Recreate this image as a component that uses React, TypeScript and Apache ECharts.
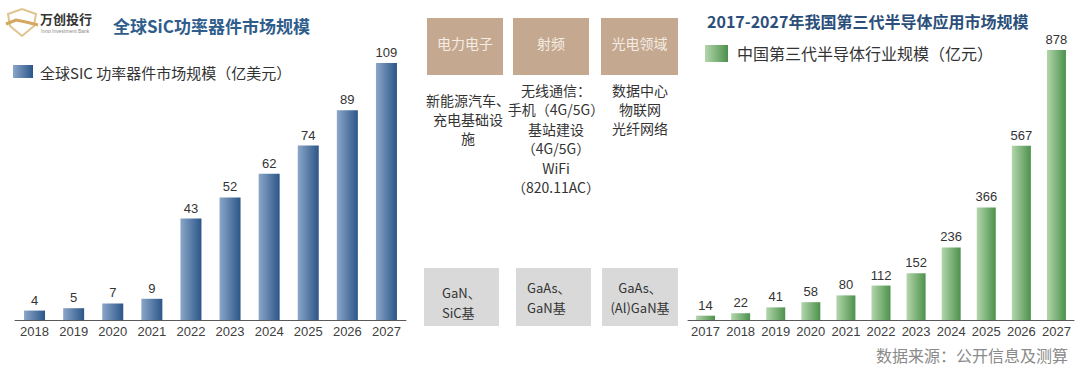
import React, { useEffect, useRef } from "react";
import * as echarts from "echarts";

const sicYears = ["2018", "2019", "2020", "2021", "2022", "2023", "2024", "2025", "2026", "2027"];
const sicValues = [4, 5, 7, 9, 43, 52, 62, 74, 89, 109];

const cnYears = ["2017", "2018", "2019", "2020", "2021", "2022", "2023", "2024", "2025", "2026", "2027"];
const cnValues = [14, 22, 41, 58, 80, 112, 152, 236, 366, 567, 878];

const fieldHeaders = ["电力电子", "射频", "光电领域"];
const fieldApps = [
  ["新能源汽车、", "充电基础设", "施"],
  ["无线通信：", "手机（4G/5G）", "基站建设", "（4G/5G）", "WiFi", "（820.11AC）"],
  ["数据中心", "物联网", "光纤网络"],
];
const fieldMaterials = [
  ["GaN、", "SiC基"],
  ["GaAs、", "GaN基"],
  ["GaAs、", "(Al)GaN基"],
];

const CJK = '"Noto Sans CJK SC", "Noto Sans", sans-serif';
const NUM = '"Liberation Sans", Arial, sans-serif';

export default function App() {
  const ref = useRef<HTMLDivElement>(null);
  useEffect(() => {
    const chart = echarts.init(ref.current!, null, { renderer: "svg" });

    const blueGrad = new echarts.graphic.LinearGradient(0, 0, 1, 0, [
      { offset: 0, color: "#8ba6c9" },
      { offset: 1, color: "#2b5688" },
    ]);
    const greenGrad = new echarts.graphic.LinearGradient(0, 0, 1, 0, [
      { offset: 0, color: "#b3d6ab" },
      { offset: 1, color: "#4c914c" },
    ]);

    const headerX = [427, 513, 601];
    const headerW = [76, 76, 77];
    const appCenters = [468, 556, 640];
    const matX = [424, 516, 602];
    const matW = [75, 75, 76];

    const graphics: any[] = [];
    // logo
    graphics.push({
      type: "polygon",
      shape: { points: [[8, 14], [22, 9], [36, 14], [34, 26], [22, 36], [10, 26]] },
      style: { fill: "none", stroke: "#e0c48f", lineWidth: 2 },
    });
    graphics.push({
      type: "polyline",
      shape: { points: [[6, 24], [16, 20], [26, 22], [38, 25]] },
      style: { stroke: "#d4a860", lineWidth: 3, fill: "none" },
    });
    graphics.push({
      type: "text", x: 40, y: 18,
      style: { text: "万创投行", font: `bold 13px ${CJK}`, fill: "#333", verticalAlign: "middle" },
    });
    graphics.push({
      type: "text", x: 41, y: 31,
      style: { text: "Inno Investment Bank", font: `5px ${NUM}`, fill: "#888", verticalAlign: "middle" },
    });
    // left title
    graphics.push({
      type: "text", x: 113, y: 25,
      style: { text: "全球SiC功率器件市场规模", font: `bold 17px ${CJK}`, fill: "#2f5d8c", verticalAlign: "middle" },
    });
    // left legend
    graphics.push({
      type: "rect", shape: { x: 13, y: 65, width: 20, height: 13 },
      style: { fill: blueGrad },
    });
    graphics.push({
      type: "text", x: 40, y: 72,
      style: { text: "全球SIC 功率器件市场规模（亿美元）", font: `15px ${CJK}`, fill: "#333", verticalAlign: "middle" },
    });
    // right title
    graphics.push({
      type: "text", x: 707, y: 21,
      style: { text: "2017-2027年我国第三代半导体应用市场规模", font: `bold 16px ${CJK}`, fill: "#2b4f7a", verticalAlign: "middle" },
    });
    // right legend
    graphics.push({
      type: "rect", shape: { x: 705, y: 45, width: 23, height: 17 },
      style: { fill: greenGrad },
    });
    graphics.push({
      type: "text", x: 737, y: 53,
      style: { text: "中国第三代半导体行业规模（亿元）", font: `16px ${CJK}`, fill: "#333", verticalAlign: "middle" },
    });
    // source
    graphics.push({
      type: "text", x: 1068, y: 355,
      style: { text: "数据来源：公开信息及测算", font: `16px ${CJK}`, fill: "#8a8a8a", align: "right", verticalAlign: "middle" },
    });
    // middle boxes
    fieldHeaders.forEach((h, i) => {
      graphics.push({
        type: "rect", shape: { x: headerX[i], y: 18, width: headerW[i], height: 57 },
        style: { fill: "#c4a890" },
      });
      graphics.push({
        type: "text", x: headerX[i] + headerW[i] / 2, y: 43,
        style: { text: h, font: `14px ${CJK}`, fill: "#f5ede4", align: "center", verticalAlign: "middle" },
      });
      fieldApps[i].forEach((line, j) => {
        graphics.push({
          type: "text", x: appCenters[i], y: (i === 0 ? 100 : 90) + j * (i === 1 ? 19.4 : 19),
          style: { text: line, font: `14px ${CJK}`, fill: "#333", align: "center", verticalAlign: "middle" },
        });
      });
      graphics.push({
        type: "rect", shape: { x: matX[i], y: 268, width: matW[i], height: 58 },
        style: { fill: "#d9d9d9" },
      });
      fieldMaterials[i].forEach((line, j) => {
        const y0 = i === 0 ? 292 : 287;
        if (i === 2) {
          graphics.push({
            type: "text", x: 640, y: y0 + j * 20,
            style: { text: line, font: `13px ${CJK}`, fill: "#333", align: "center", verticalAlign: "middle" },
          });
        } else {
          graphics.push({
            type: "text", x: i === 0 ? 442 : 527, y: y0 + j * 20,
            style: { text: line, font: `13px ${CJK}`, fill: "#333", verticalAlign: "middle" },
          });
        }
      });
    });

    const axisLabel = { color: "#404040", fontSize: 13, fontFamily: NUM, margin: 5, interval: 0 };
    const valueLabel = { show: true, position: "top", color: "#333", fontSize: 13, fontFamily: NUM, distance: 4 };

    chart.setOption({
      animation: false,
      grid: [
        { left: 15, width: 391, top: 63, bottom: 48 },
        { left: 688, width: 386, top: 50, bottom: 48 },
      ],
      xAxis: [
        {
          type: "category", gridIndex: 0, data: sicYears,
          axisLine: { lineStyle: { color: "#595959", width: 1 } },
          axisTick: { show: false }, axisLabel,
        },
        {
          type: "category", gridIndex: 1, data: cnYears,
          axisLine: { lineStyle: { color: "#595959", width: 1 } },
          axisTick: { show: false }, axisLabel,
        },
      ],
      yAxis: [
        { type: "value", gridIndex: 0, min: 0, max: 109, show: false, splitLine: { show: false } },
        { type: "value", gridIndex: 1, min: 0, max: 878, show: false, splitLine: { show: false } },
      ],
      series: [
        {
          type: "bar", xAxisIndex: 0, yAxisIndex: 0, data: sicValues, barWidth: 21,
          itemStyle: { color: blueGrad }, label: valueLabel,
        },
        {
          type: "bar", xAxisIndex: 1, yAxisIndex: 1, data: cnValues, barWidth: 19,
          itemStyle: { color: greenGrad }, label: valueLabel,
        },
      ],
      graphic: graphics,
    });
    return () => chart.dispose();
  }, []);
  return (
    <div
      ref={ref}
      style={{ position: "absolute", left: 0, top: 0, width: 1080, height: 368, background: "#fff" }}
    />
  );
}
